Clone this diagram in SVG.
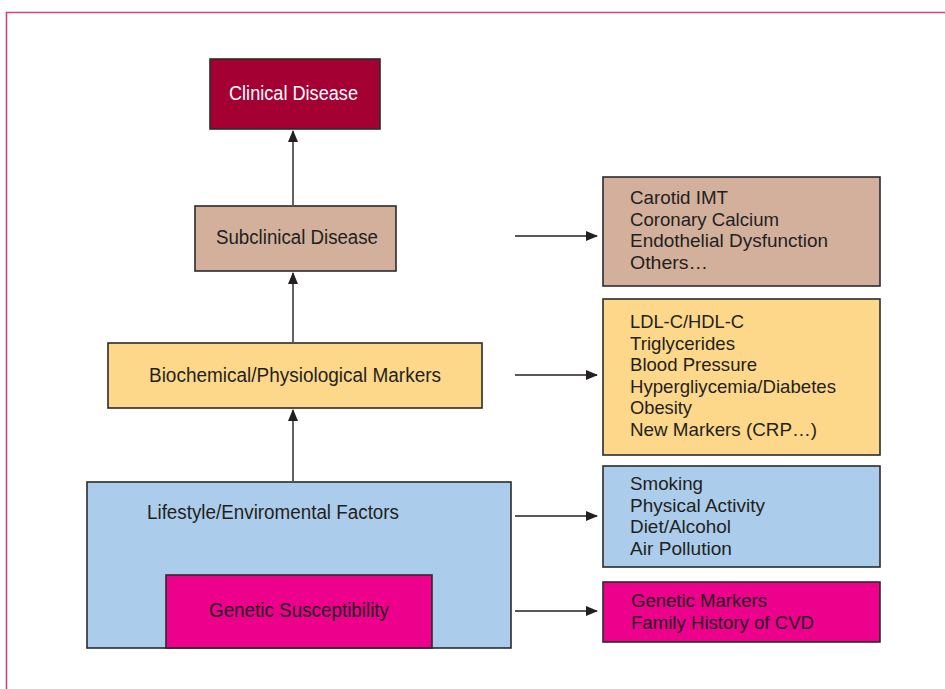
<svg xmlns="http://www.w3.org/2000/svg" width="945" height="689" viewBox="0 0 945 689">
<style>
text{font-family:"Liberation Sans",Arial,sans-serif;font-size:20px;fill:#231f20}
.l text{font-size:19px}
.box{stroke:#2b2b2b;stroke-width:1.6}
.con line{stroke:#231f20;stroke-width:1.4}
</style>
<defs>
<marker id="ah" viewBox="0 0 12 10" refX="11" refY="5" markerWidth="12" markerHeight="10" markerUnits="userSpaceOnUse" orient="auto">
<path d="M0,0 L12,5 L0,10 Z" fill="#231f20"/>
</marker>
</defs>
<rect width="945" height="689" fill="#fff"/>
<path d="M6.5,689 V12.5 H945" fill="none" stroke="#c9486f" stroke-width="1.6"/>
<g id="clinical"><rect class="box" x="210" y="59" width="170" height="70" fill="#a50034"/><text x="229" y="100" textLength="129" lengthAdjust="spacingAndGlyphs" style="fill:#fff">Clinical Disease</text></g>
<g id="subclinical"><rect class="box" x="195" y="206" width="201" height="65" fill="#d2b09c"/><text x="216" y="244" textLength="162" lengthAdjust="spacingAndGlyphs">Subclinical Disease</text></g>
<g id="biochemical"><rect class="box" x="108" y="343" width="374" height="65" fill="#fdd88a"/><text x="149" y="382" textLength="292" lengthAdjust="spacingAndGlyphs">Biochemical/Physiological Markers</text></g>
<g id="lifestyle"><rect class="box" x="87" y="482" width="424" height="166" fill="#abcdeb"/><text x="147" y="519" textLength="252" lengthAdjust="spacingAndGlyphs">Lifestyle/Enviromental Factors</text></g>
<g id="genetic"><rect class="box" x="166" y="575" width="266" height="73" fill="#ec008c"/><text x="209" y="617" textLength="180" lengthAdjust="spacingAndGlyphs">Genetic Susceptibility</text></g>
<g id="subclinical-list" class="l"><rect class="box" x="603" y="177" width="277" height="109" fill="#d2b09c"/>
<text x="630" y="204" textLength="98" lengthAdjust="spacingAndGlyphs">Carotid IMT</text>
<text x="630" y="226" textLength="149" lengthAdjust="spacingAndGlyphs">Coronary Calcium</text>
<text x="630" y="247" textLength="198" lengthAdjust="spacingAndGlyphs">Endothelial Dysfunction</text>
<text x="630" y="269" textLength="78" lengthAdjust="spacingAndGlyphs">Others…</text></g>
<g id="biochemical-list" class="l"><rect class="box" x="603" y="299" width="277" height="156" fill="#fdd88a"/>
<text x="630" y="328" textLength="114" lengthAdjust="spacingAndGlyphs">LDL-C/HDL-C</text>
<text x="630" y="349.5" textLength="105" lengthAdjust="spacingAndGlyphs">Triglycerides</text>
<text x="630" y="371" textLength="127" lengthAdjust="spacingAndGlyphs">Blood Pressure</text>
<text x="630" y="392.5" textLength="206" lengthAdjust="spacingAndGlyphs">Hypergliycemia/Diabetes</text>
<text x="630" y="414" textLength="62" lengthAdjust="spacingAndGlyphs">Obesity</text>
<text x="630" y="435.5" textLength="187" lengthAdjust="spacingAndGlyphs">New Markers (CRP…)</text></g>
<g id="lifestyle-list" class="l"><rect class="box" x="603" y="466" width="277" height="101" fill="#abcdeb"/>
<text x="630" y="490" textLength="73" lengthAdjust="spacingAndGlyphs">Smoking</text>
<text x="630" y="511.5" textLength="135" lengthAdjust="spacingAndGlyphs">Physical Activity</text>
<text x="630" y="533" textLength="101" lengthAdjust="spacingAndGlyphs">Diet/Alcohol</text>
<text x="630" y="554.5" textLength="102" lengthAdjust="spacingAndGlyphs">Air Pollution</text></g>
<g id="genetic-list" class="l"><rect class="box" x="603" y="582" width="277" height="60" fill="#ec008c"/>
<text x="631" y="607" textLength="136" lengthAdjust="spacingAndGlyphs">Genetic Markers</text>
<text x="631" y="628.5" textLength="183" lengthAdjust="spacingAndGlyphs">Family History of CVD</text></g>
<g class="con" id="connectors">
<line x1="293" y1="205" x2="293" y2="131" marker-end="url(#ah)"/>
<line x1="293" y1="342" x2="293" y2="273" marker-end="url(#ah)"/>
<line x1="293" y1="481" x2="293" y2="410" marker-end="url(#ah)"/>
<line x1="515" y1="236" x2="597" y2="236" marker-end="url(#ah)"/>
<line x1="515" y1="375" x2="597" y2="375" marker-end="url(#ah)"/>
<line x1="515" y1="516" x2="597" y2="516" marker-end="url(#ah)"/>
<line x1="515" y1="611" x2="597" y2="611" marker-end="url(#ah)"/>
</g>
</svg>
